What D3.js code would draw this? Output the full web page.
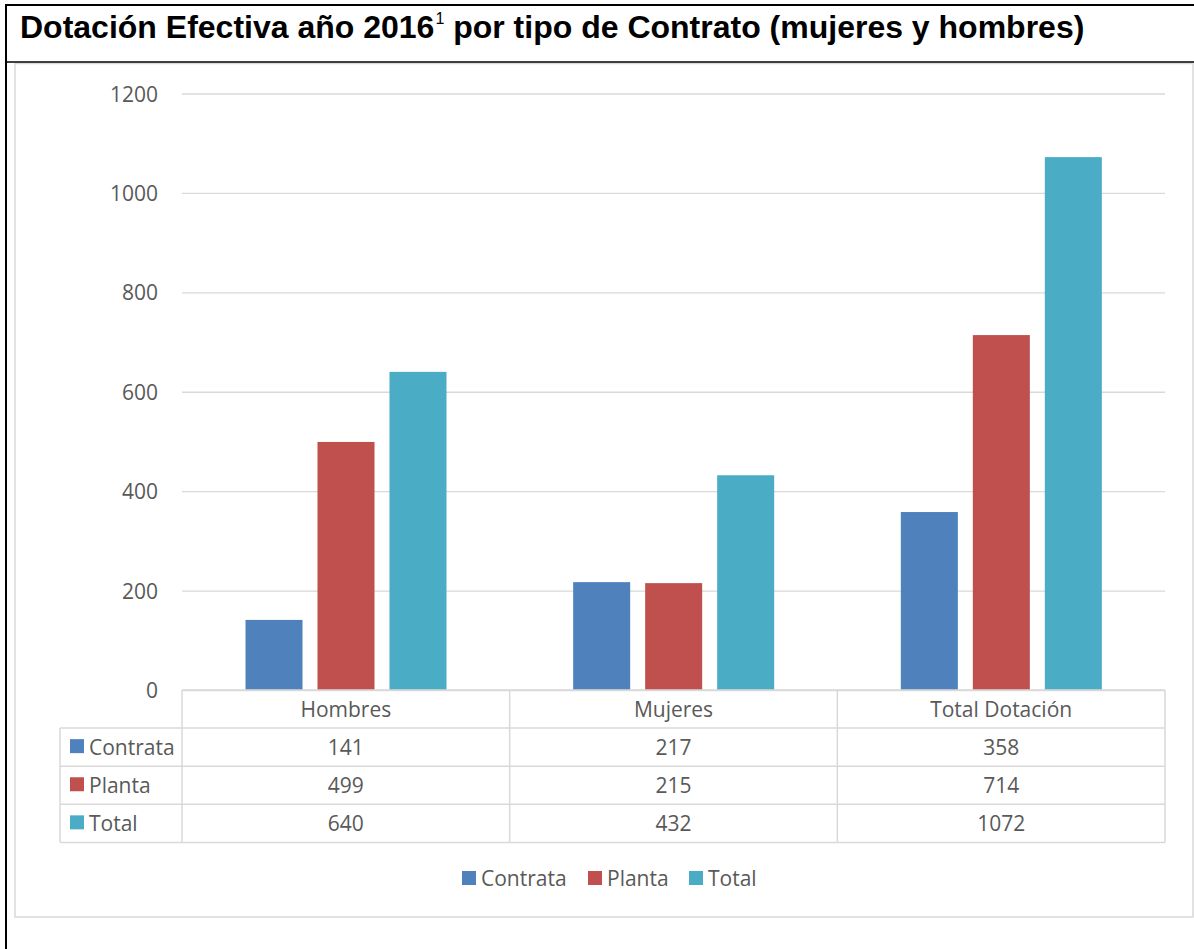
<!DOCTYPE html>
<html>
<head>
<meta charset="utf-8">
<script src="https://cdn.jsdelivr.net/npm/d3@7"></script>
<style>
  body { margin: 0; background: #fff; }
  text { font-family: "Open Sans", sans-serif; }
</style>
</head>
<body>
<script>
// Chart data
var categories = ["Hombres", "Mujeres", "Total Dotación"];
var series = ["Contrata", "Planta", "Total"];
var contrata = [141, 217, 358];
var planta = [499, 215, 714];
var total = [640, 432, 1072];
var yTicks = [0, 200, 400, 600, 800, 1000, 1200];

var colors = ["#4F81BD", "#C0504D", "#4BACC6"];
var values = [contrata, planta, total];

// Chart Params
var svgWidth = 1194;
var svgHeight = 949;
var plot = { left: 182, right: 1165, top: 93.5, bottom: 690 };
var tableLeft = 60;
var rowHeight = 38.1;
var textColor = "#595959";
var gridColor = "#d9d9d9";
var fontSize = "21px";

var svg = d3.select("body")
  .append("svg")
  .attr("width", svgWidth)
  .attr("height", svgHeight);

svg.append("rect")
  .attr("width", svgWidth)
  .attr("height", svgHeight)
  .attr("fill", "#fff");

// chart area border
svg.append("rect")
  .attr("x", 15)
  .attr("y", 63.5)
  .attr("width", 1178)
  .attr("height", 853.5)
  .attr("fill", "none")
  .attr("stroke", gridColor)
  .attr("stroke-width", 1.5);

// black frame of the document table
svg.append("line")
  .attr("x1", 6).attr("x2", svgWidth)
  .attr("y1", 5).attr("y2", 5)
  .attr("stroke", "#000").attr("stroke-width", 2);
svg.append("line")
  .attr("x1", 6).attr("x2", svgWidth)
  .attr("y1", 62).attr("y2", 62)
  .attr("stroke", "#000").attr("stroke-width", 1.5);
svg.append("line")
  .attr("x1", 6).attr("x2", 6)
  .attr("y1", 4).attr("y2", svgHeight)
  .attr("stroke", "#000").attr("stroke-width", 2);

// title
var title = svg.append("text")
  .attr("x", 20)
  .attr("y", 38)
  .attr("fill", "#000")
  .style("font-family", "'Liberation Sans', Arial, sans-serif")
  .style("font-weight", "bold")
  .style("font-size", "32px");
title.append("tspan").text("Dotación Efectiva año 2016");
title.append("tspan")
  .attr("dx", 1)
  .attr("dy", -14)
  .style("font-size", "16px")
  .style("font-weight", "normal")
  .text("1");
title.append("tspan")
  .attr("dy", 14)
  .text(" por tipo de Contrato (mujeres y hombres)");

// scales
var x0 = d3.scaleBand()
  .domain(categories)
  .range([plot.left, plot.right]);

var x1 = d3.scaleBand()
  .domain(series)
  .range([63.5, 264.5])
  .paddingInner(0.208);

var y = d3.scaleLinear()
  .domain([0, 1200])
  .range([plot.bottom, plot.top]);

// y axis with gridlines
var leftAxis = d3.axisLeft(y)
  .tickValues(yTicks)
  .tickFormat(d3.format("d"))
  .tickSize(-(plot.right - plot.left))
  .tickPadding(24);

var yAxis = svg.append("g")
  .attr("transform", `translate(${plot.left}, 0)`)
  .call(leftAxis);

yAxis.select(".domain").remove();
yAxis.selectAll("line")
  .attr("stroke", gridColor)
  .attr("stroke-width", 1.3);
yAxis.selectAll("text")
  .attr("fill", textColor)
  .attr("dy", "0.36em")
  .style("font-family", "'Open Sans', sans-serif")
  .style("font-size", fontSize);

// bars
var groups = svg.selectAll(".cat")
  .data(categories)
  .enter()
  .append("g")
  .attr("class", "cat")
  .attr("transform", d => `translate(${x0(d)}, 0)`);

groups.selectAll("rect")
  .data((d, i) => series.map((s, j) => ({ s: s, v: values[j][i], c: colors[j] })))
  .enter()
  .append("rect")
  .attr("x", d => x1(d.s))
  .attr("y", d => y(d.v))
  .attr("width", x1.bandwidth())
  .attr("height", d => y(0) - y(d.v))
  .attr("fill", d => d.c);

// data table
var table = svg.append("g")
  .attr("stroke", gridColor)
  .attr("stroke-width", 1.5)
  .attr("fill", "none");

var tableBottom = plot.bottom + rowHeight * 4;

// horizontal rules
table.append("line")
  .attr("x1", plot.left).attr("x2", plot.right)
  .attr("y1", plot.bottom).attr("y2", plot.bottom);
for (var r = 1; r <= 4; r++) {
  table.append("line")
    .attr("x1", tableLeft).attr("x2", plot.right)
    .attr("y1", plot.bottom + rowHeight * r)
    .attr("y2", plot.bottom + rowHeight * r);
}
// vertical rules
table.append("line")
  .attr("x1", tableLeft).attr("x2", tableLeft)
  .attr("y1", plot.bottom + rowHeight).attr("y2", tableBottom);
categories.concat(["end"]).forEach((c, i) => {
  var xx = i < categories.length ? x0(c) : plot.right;
  table.append("line")
    .attr("x1", xx).attr("x2", xx)
    .attr("y1", plot.bottom).attr("y2", tableBottom);
});

// header row labels
svg.selectAll(".catLabel")
  .data(categories)
  .enter()
  .append("text")
  .attr("class", "catLabel")
  .attr("x", d => x0(d) + x0.bandwidth() / 2)
  .attr("y", plot.bottom + rowHeight / 2)
  .attr("dy", "0.36em")
  .attr("text-anchor", "middle")
  .attr("fill", textColor)
  .style("font-size", fontSize)
  .text(d => d);

// series rows
series.forEach((s, j) => {
  var cy = plot.bottom + rowHeight * (j + 1.5);

  svg.append("rect")
    .attr("x", 70)
    .attr("y", cy - 8)
    .attr("width", 14)
    .attr("height", 14)
    .attr("fill", colors[j]);

  svg.append("text")
    .attr("x", 89)
    .attr("y", cy)
    .attr("dy", "0.36em")
    .attr("fill", textColor)
    .style("font-size", fontSize)
    .text(s);

  svg.selectAll(".val" + j)
    .data(values[j])
    .enter()
    .append("text")
    .attr("class", "val" + j)
    .attr("x", (d, i) => x0(categories[i]) + x0.bandwidth() / 2)
    .attr("y", cy)
    .attr("dy", "0.36em")
    .attr("text-anchor", "middle")
    .attr("fill", textColor)
    .style("font-size", fontSize)
    .text(d => d);
});

// legend
var legendX = [462, 588, 689];
var legend = svg.selectAll(".legend")
  .data(series)
  .enter()
  .append("g")
  .attr("class", "legend")
  .attr("transform", (d, i) => `translate(${legendX[i]}, 871)`);

legend.append("rect")
  .attr("width", 14)
  .attr("height", 14)
  .attr("fill", (d, i) => colors[i]);

legend.append("text")
  .attr("x", 19)
  .attr("y", 7)
  .attr("dy", "0.36em")
  .attr("fill", textColor)
  .style("font-size", fontSize)
  .text(d => d);
</script>
</body>
</html>
